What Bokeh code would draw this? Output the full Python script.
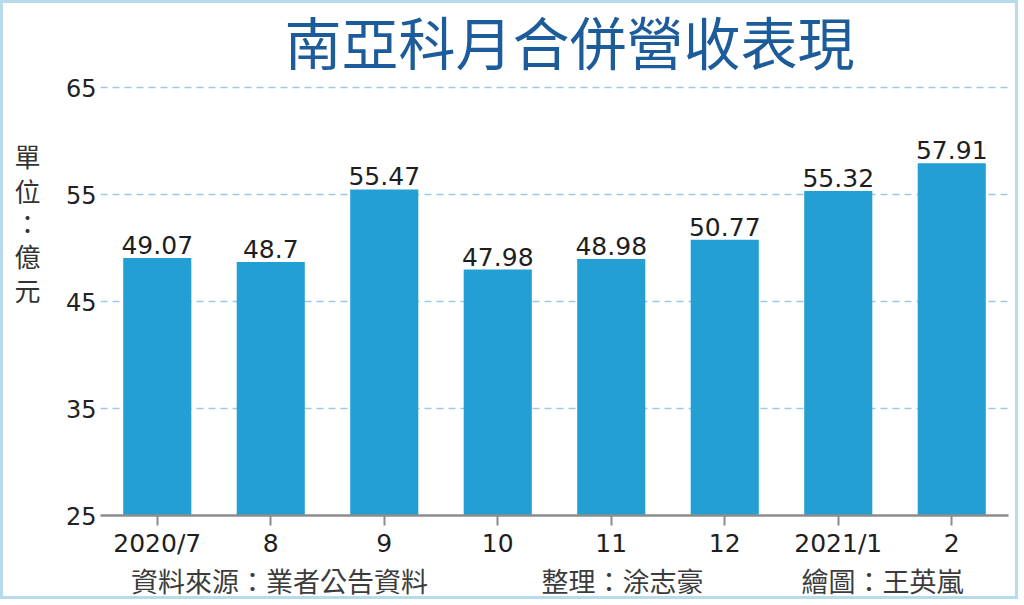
from bokeh.plotting import figure
from bokeh.models import (ColumnDataSource, FixedTicker, LinearAxis, Range1d, Label)
from bokeh.embed import file_html
from bokeh.resources import INLINE

# ---- data ----
months = ["2020/7", "8", "9", "10", "11", "12", "2021/1", "2"]
revenue = [49.07, 48.7, 55.47, 47.98, 48.98, 50.77, 55.32, 57.91]
revenue_labels = ["49.07", "48.7", "55.47", "47.98", "48.98", "50.77", "55.32", "57.91"]
y_ticks = [25, 35, 45, 55, 65]

title_text = "南亞科月合併營收表現"
unit_chars = ["單", "位", "：", "億", "元"]
footer_texts = ["資料來源：業者公告資料", "整理：涂志豪", "繪圖：王英嵐"]

# ---- style / layout ----
BAR = "#249fd4"
TITLE_C = "#1d5c9a"
GRID_C = "#9ccbe3"
AXIS_C = "#8c8c8c"
FRAME_C = "#b7dbec"
B = 3                      # page border width
W, H = 1024 - 2 * B, 605 - 2 * B
Y0, YTOP = 25, 65
FL, FR, FB = 100, 1008, 515            # frame edges in page pixels
Y_TOP_PX = 87                          # page y of the value 65
FT = B                                 # frame reaches the top of the canvas
px_per_unit = (FB - Y_TOP_PX) / (YTOP - Y0)
Y1 = YTOP + (Y_TOP_PX - FT) / px_per_unit
unit_pos = [155, 190, 222, 255, 289]   # page y of the stacked unit characters
footer_pos = [279, 622, 882]           # page x centres of footer texts
title_pos = (569, 39)                  # page centre of the title

idx = list(range(len(months)))
src = ColumnDataSource(dict(x=idx, top=revenue, lab=revenue_labels))

p = figure(x_range=Range1d(-0.5, len(months) - 0.5), y_range=Range1d(Y0, Y1),
           width=W, height=H,
           output_backend="svg", toolbar_location=None,
           min_border_left=FL - B, min_border_right=(W + B) - FR,
           min_border_top=0, min_border_bottom=(H + B) - FB)
p.styles = {"border": f"{B}px solid {FRAME_C}"}
p.outline_line_color = None
p.background_fill_color = "white"
p.border_fill_color = "white"

p.extra_y_ranges = {"px": Range1d(start=FB, end=FT)}
p.extra_x_ranges = {"pxx": Range1d(start=FL, end=FR)}

p.vbar(x="x", top="top", bottom=Y0, width=0.6, source=src,
       fill_color=BAR, line_color=None)

p.text(x="x", y="top", text="lab", source=src,
       text_align="center", text_baseline="middle", y_offset=-13,
       text_font_size="25px", text_color="#1e1e1e",
       text_font={"value": "DejaVu Sans"})

# grid
p.xgrid.grid_line_color = None
p.ygrid.ticker = FixedTicker(ticks=y_ticks)
p.ygrid.grid_line_color = GRID_C
p.ygrid.grid_line_dash = "7 5"
p.ygrid.grid_line_width = 1.5

# y axis
ya = p.yaxis[0]
ya.ticker = FixedTicker(ticks=y_ticks)
ya.axis_line_color = None
ya.major_tick_line_color = None
ya.minor_tick_line_color = None
ya.major_tick_out = 0
ya.major_tick_in = 0
ya.major_label_standoff = 4
ya.major_label_text_font = "DejaVu Sans"
ya.major_label_text_font_size = "24px"
ya.major_label_text_color = "#222222"

# x axis (month labels)
xa = p.xaxis[0]
xa.ticker = FixedTicker(ticks=idx)
xa.major_label_overrides = {i: m for i, m in zip(idx, months)}
xa.axis_line_color = AXIS_C
xa.axis_line_width = 2.5
xa.major_tick_line_color = AXIS_C
xa.major_tick_line_width = 2
xa.major_tick_out = 10
xa.major_tick_in = 0
xa.minor_tick_line_color = None
xa.major_label_standoff = 3
xa.major_label_text_font = "DejaVu Sans"
xa.major_label_text_font_size = "25px"
xa.major_label_text_color = "#1e1e1e"

# stacked unit label as an extra left axis
ua = LinearAxis(y_range_name="px", ticker=FixedTicker(ticks=unit_pos),
                major_label_overrides={k: c for k, c in zip(unit_pos, unit_chars)},
                axis_line_color=None, major_tick_line_color=None,
                minor_tick_line_color=None, major_tick_out=0, major_tick_in=0,
                major_label_standoff=22,
                major_label_text_font="Noto Sans CJK TC",
                major_label_text_font_size="26px",
                major_label_text_color="#333333")
p.add_layout(ua, "left")

# footer as an extra below axis
fa = LinearAxis(x_range_name="pxx", ticker=FixedTicker(ticks=footer_pos),
                major_label_overrides={k: t for k, t in zip(footer_pos, footer_texts)},
                axis_line_color=None, major_tick_line_color=None,
                minor_tick_line_color=None, major_tick_out=0, major_tick_in=0,
                major_label_standoff=0,
                major_label_text_font="Noto Sans CJK TC",
                major_label_text_font_size="27px",
                major_label_text_color="#3c3c3c")
p.add_layout(fa, "below")

# title (inside the frame, which reaches the top of the canvas)
p.add_layout(Label(x=title_pos[0] - FL, y=FB - title_pos[1],
                   x_units="screen", y_units="screen",
                   text=title_text, text_align="center", text_baseline="middle",
                   text_font="Noto Sans CJK TC", text_font_size="57px",
                   text_color=TITLE_C))

open("out.html", "w").write(file_html(p, INLINE))
